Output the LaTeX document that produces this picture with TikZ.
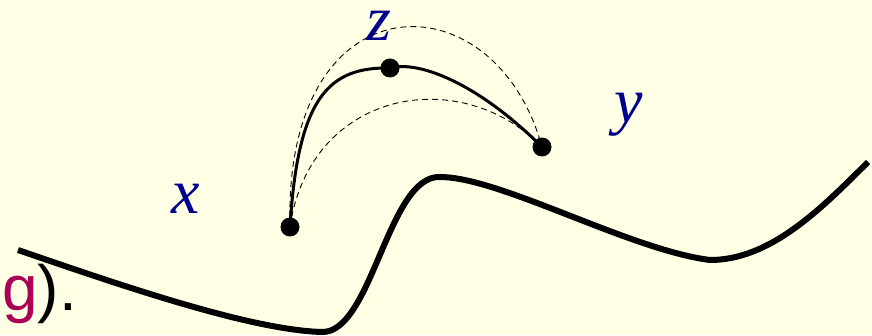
\documentclass[tikz,border=0pt]{standalone}
\usepackage{fontspec}
\setmainfont{Liberation Serif}
\setsansfont{Liberation Sans}
\usepackage{tikz}
\definecolor{SlideBg}{RGB}{255,255,230}
\definecolor{SlideBlue}{RGB}{0,0,140}
\definecolor{SlideRed}{RGB}{170,0,85}

\begin{document}
\begin{tikzpicture}[x=1pt,y=1pt,
  pt/.style={circle,fill=black,inner sep=0pt,minimum size=19pt},
  lbl/.style={anchor=base,inner sep=0pt,text=SlideBlue,font=\fontsize{64}{64}\selectfont\itshape},
  dsh/.style={line width=0.9pt,dash pattern=on 6pt off 4pt}]
\fill[SlideBg] (0,0) rectangle (872,335);
\useasboundingbox (0,0) rectangle (872,335);
% the thick curve
\draw[line width=6pt] (18,85) .. controls (120,50) and (250,5) .. (322,3)
   .. controls (372,2) and (388,160) .. (440,158)
   .. controls (500,158) and (630,85) .. (710,75)
   .. controls (770,75) and (820,125) .. (868,173);
\node[pt] (xp) at (290,108) {};
\node[pt] (zp) at (390,267) {};
\node[pt] (yp) at (542,188) {};
\node[lbl] (xl) at (186,122) {x};
\node[lbl] (zl) at (379,294) {z};
\node[lbl] (yl) at (629,212) {y};
\draw[line width=3pt] (xp.center) .. controls (298,240) and (330,268) .. (zp.center)
   .. controls (420,275) and (480,250) .. (yp.center);
\draw[dsh] (xp.center) .. controls (283,360) and (495,360) .. (yp.center);
\draw[dsh] (xp.center) .. controls (310,245) and (460,272) .. (yp.center);
\node[anchor=base west,inner sep=0pt,font=\sffamily\fontsize{64}{64}\selectfont] (gtxt) at (2,25)
   {\textcolor{SlideRed}{g}).};
\end{tikzpicture}
\end{document}
